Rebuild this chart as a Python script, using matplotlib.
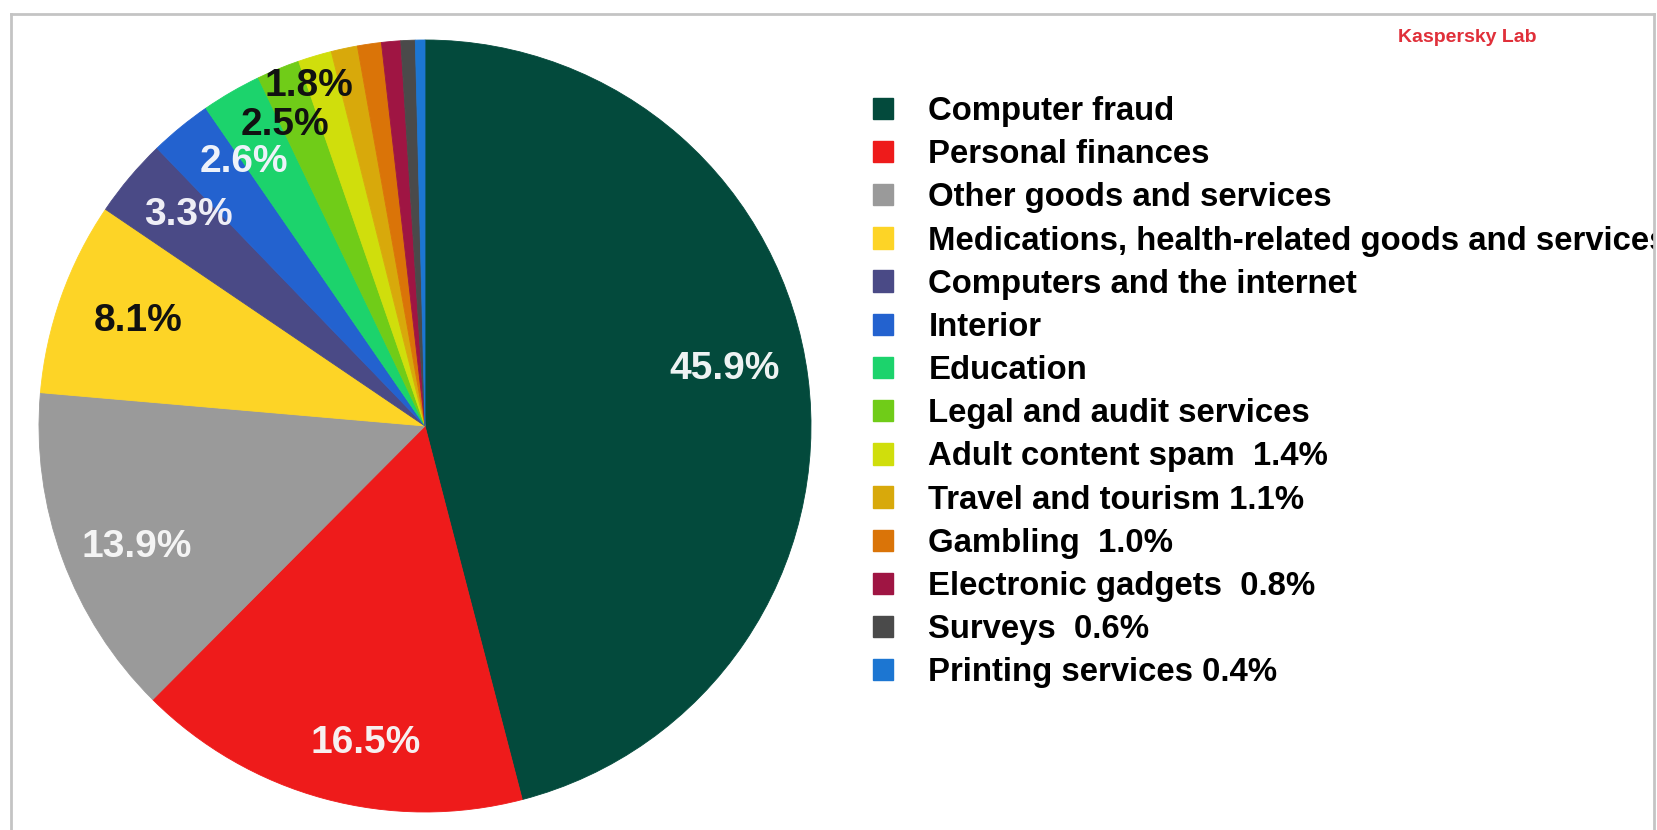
import numpy as np
import matplotlib.pyplot as plt
from matplotlib.lines import Line2D
from matplotlib.patches import Patch, Rectangle

plt.rcParams['font.family'] = ['Liberation Sans', 'DejaVu Sans']

# Spam categories and their shares (%)
categories = ['Computer fraud', 'Personal finances', 'Other goods and services',
              'Medications, health-related goods and services',
              'Computers and the internet', 'Interior', 'Education',
              'Legal and audit services', 'Adult content spam', 'Travel and tourism',
              'Gambling', 'Electronic gadgets', 'Surveys', 'Printing services']
shares = [45.9, 16.5, 13.9, 8.1, 3.3, 2.6, 2.5, 1.8, 1.4, 1.1, 1.0, 0.8, 0.6, 0.4]
legend_labels = ['Computer fraud', 'Personal finances', 'Other goods and services',
                 'Medications, health-related goods and services',
                 'Computers and the internet', 'Interior', 'Education',
                 'Legal and audit services', 'Adult content spam  1.4%',
                 'Travel and tourism 1.1%', 'Gambling  1.0%',
                 'Electronic gadgets  0.8%', 'Surveys  0.6%', 'Printing services 0.4%']

colors = ['#034a3c', '#ee1b1b', '#9a9a9a', '#fdd426', '#4a4a86', '#2362cf',
          '#1cd36c', '#70cc18', '#d0de0c', '#d8a90b', '#da7408', '#9f1543',
          '#4a4a4a', '#1c76d2']

# labels drawn on the first slices only: radial distance, angle shift, colour
lab_dist = [0.79, 0.835, 0.81, 0.79, 0.82, 0.83, 0.86, 0.93]
lab_shift = [3.5, 4.6, 2.6, -0.5, -1.6, -4.9, -5.1, -3.5]
lab_color = ['#eef3f3', '#f6f0f0', '#f4f4f4', '#111111', '#eeeef6', '#eef2fa',
             '#111111', '#111111']

W, H = 1658, 830
fig = plt.figure(figsize=(W / 100, H / 100), dpi=100)

cx, cy, R = 425, 426, 386
ax = fig.add_axes([(cx - R) / W, (H - cy - R) / H, 2 * R / W, 2 * R / H])
wedges, _ = ax.pie(shares, colors=colors, startangle=90, counterclock=False,
                   wedgeprops=dict(linewidth=0.6))
for w, c in zip(wedges, colors):
    w.set_edgecolor(c)
ax.set_xlim(-1, 1)
ax.set_ylim(-1, 1)
ax.axis('off')

for i in range(len(lab_dist)):
    w = wedges[i]
    mid = np.deg2rad((w.theta1 + w.theta2) / 2 + lab_shift[i])
    ax.text(lab_dist[i] * np.cos(mid), lab_dist[i] * np.sin(mid), f'{shares[i]:.1f}%',
            ha='center', va='center', fontsize=28, fontweight='bold', color=lab_color[i])

handles = [Patch(facecolor=c, edgecolor=c) for c in colors]
fig.legend(handles, legend_labels, loc='upper left',
           bbox_to_anchor=(873 / W, 1 - 96 / H), frameon=False,
           prop=dict(weight='bold', size=23.7),
           handlelength=0.62, handleheight=0.62, handletextpad=1.06,
           labelspacing=0.37, borderpad=0, borderaxespad=0)

fig.text(1467 / W, 1 - 37 / H, 'Kaspersky Lab', color='#e0303a', fontsize=14,
         fontweight='bold', ha='center', va='center')

# light grey frame (bottom edge lies outside the image); text past it is hidden
fc = '#c4c4c4'
fig.add_artist(Rectangle((1655 / W, 0), 3 / W, 1, transform=fig.transFigure,
                         facecolor='white', edgecolor='none', zorder=10))
fig.add_artist(Line2D([11 / W, 1654 / W], [1 - 14 / H, 1 - 14 / H], color=fc, lw=2, zorder=11))
fig.add_artist(Line2D([11 / W, 11 / W], [0, 1 - 14 / H], color=fc, lw=2, zorder=11))
fig.add_artist(Line2D([1654 / W, 1654 / W], [0, 1 - 14 / H], color=fc, lw=2, zorder=11))

fig.savefig('out.png', dpi=100)
